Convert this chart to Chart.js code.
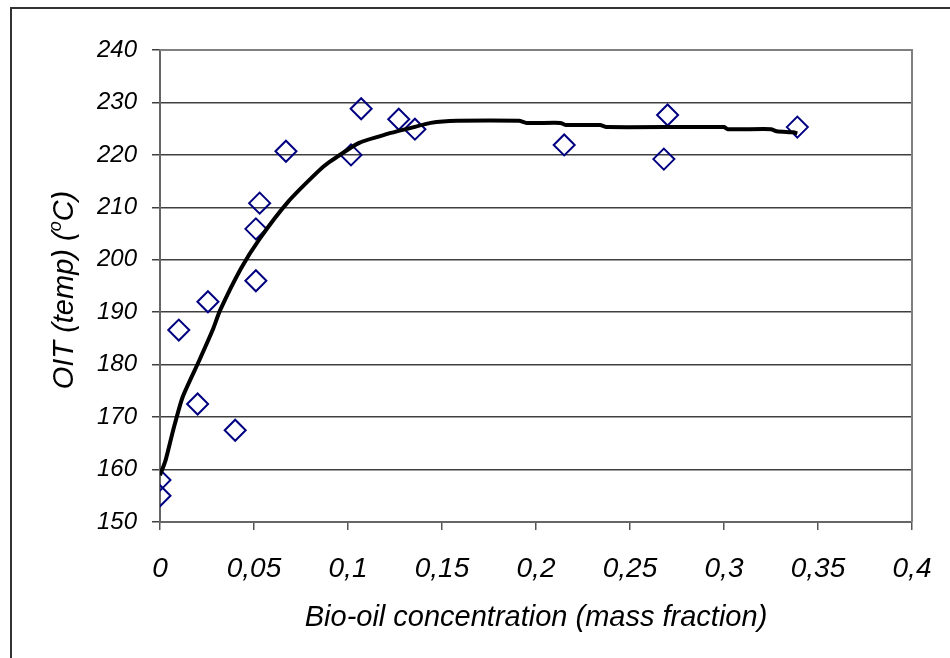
<!DOCTYPE html>
<html>
<head>
<meta charset="utf-8">
<script src="https://cdn.jsdelivr.net/npm/chart.js@4/dist/chart.umd.min.js"></script>
<style>
  html, body { margin: 0; padding: 0; background: #fff; }
  #wrap { width: 950px; height: 658px; position: relative; }
</style>
</head>
<body>
<div id="wrap"><canvas id="c"></canvas></div>
<script>
// measured OIT points (bio-oil mass fraction vs. temperature)
const pointX = [0, 0, 0.01, 0.02, 0.0255, 0.04, 0.051, 0.051, 0.053, 0.067, 0.1016, 0.107, 0.127, 0.1356, 0.215, 0.27, 0.268, 0.339];
const pointY = [158, 155, 186.6, 172.5, 192, 167.5, 196, 205.9, 210.8, 220.7, 220, 228.8, 226.8, 224.9, 221.9, 227.6, 219.2, 225.3];

// trend curve
const fitX = [0, 0.003, 0.007, 0.012, 0.021, 0.028, 0.032, 0.043, 0.053, 0.068, 0.084, 0.09, 0.106, 0.121, 0.133, 0.144, 0.158, 0.191, 0.195, 0.213, 0.216, 0.234, 0.238, 0.3, 0.302, 0.325, 0.328, 0.337, 0.339];
const fitY = [158.9, 161.8, 167.5, 173.8, 180.9, 186.6, 190.4, 198.3, 204.0, 211.0, 216.8, 218.6, 222.3, 224.0, 225.1, 226.1, 226.5, 226.5, 226.1, 226.1, 225.7, 225.7, 225.3, 225.3, 224.9, 224.9, 224.5, 224.3, 224.1];

const xMin = 0, xMax = 0.4, xStep = 0.05;
const yMin = 150, yMax = 240, yStep = 10;

const xTitle = 'Bio-oil concentration (mass fraction)';
const yTitleParts = ['OIT (temp) (', 'o', 'C)'];

const FONT = "'Liberation Sans', Arial, sans-serif";
const zip = (xs, ys) => xs.map((x, i) => ({ x, y: ys[i] }));
const commaFmt = v => String(Math.round(v * 100) / 100).replace('.', ',');

// outer frame + plot border + rotated y title with superscript
const decor = {
  id: 'decor',
  beforeDraw(chart) {
    const ctx = chart.ctx;
    ctx.save();
    ctx.strokeStyle = '#333';
    ctx.lineWidth = 2;
    ctx.strokeRect(11, 8, 2000, 2000);
    ctx.restore();
  },
  beforeDatasetsDraw(chart) {
    const { ctx, chartArea: a } = chart;
    ctx.save();
    ctx.strokeStyle = '#808080';
    ctx.lineWidth = 2;
    ctx.beginPath();
    ctx.moveTo(a.left, a.top);
    ctx.lineTo(a.right, a.top);
    ctx.lineTo(a.right, a.bottom);
    ctx.stroke();
    ctx.restore();
  },
  afterDraw(chart) {
    const { ctx } = chart;
    ctx.save();
    ctx.fillStyle = '#000';
    ctx.textBaseline = 'alphabetic';
    const big = 'italic 29px ' + FONT, small = 'italic 18px ' + FONT;
    ctx.font = big;
    const w0 = ctx.measureText(yTitleParts[0]).width;
    const w2 = ctx.measureText(yTitleParts[2]).width;
    ctx.font = small;
    const w1 = ctx.measureText(yTitleParts[1]).width;
    const total = w0 + w1 + w2;
    ctx.translate(73, 290);
    ctx.rotate(-Math.PI / 2);
    let x = -total / 2;
    ctx.font = big;
    ctx.fillText(yTitleParts[0], x, 0);
    x += w0;
    ctx.font = small;
    ctx.fillText(yTitleParts[1], x, -12);
    x += w1;
    ctx.font = big;
    ctx.fillText(yTitleParts[2], x, 0);
    ctx.restore();
  }
};

new Chart(document.getElementById('c'), {
  type: 'scatter',
  data: {
    datasets: [
      {
        label: 'trend',
        data: zip(fitX, fitY),
        showLine: true,
        borderColor: '#000',
        borderWidth: 4,
        pointRadius: 0,
        tension: 0.2,
        fill: false
      },
      {
        label: 'OIT',
        data: zip(pointX, pointY),
        pointStyle: 'rectRot',
        pointRadius: 10.5,
        borderColor: '#000080',
        backgroundColor: 'rgba(0,0,0,0)',
        borderWidth: 2,
        showLine: false
      }
    ]
  },
  options: {
    responsive: true,
    maintainAspectRatio: false,
    animation: false,
    events: [],
    layout: { padding: { top: 50, right: 38, left: 0, bottom: 0 } },
    plugins: { legend: { display: false }, tooltip: { enabled: false } },
    scales: {
      x: {
        type: 'linear',
        min: xMin, max: xMax,
        afterFit: s => { s.height = 136; s.paddingLeft = 0; s.paddingRight = 0; },
        ticks: {
          stepSize: xStep,
          padding: 22,
          color: '#000',
          font: { family: FONT, size: 28, style: 'italic' },
          callback: commaFmt,
          maxRotation: 0
        },
        grid: { drawOnChartArea: false, tickLength: 8, color: '#555', lineWidth: 1.5 },
        border: { color: '#666', width: 2 },
        title: {
          display: true,
          text: xTitle,
          color: '#000',
          font: { family: FONT, size: 29, style: 'italic' },
          padding: { top: 12, bottom: 23 }
        }
      },
      y: {
        min: yMin, max: yMax,
        afterFit: s => { s.width = 160; },
        ticks: {
          stepSize: yStep,
          padding: 15,
          color: '#000',
          font: { family: FONT, size: 24, style: 'italic' }
        },
        grid: { color: '#404040', lineWidth: 1.5, tickLength: 8 },
        border: { color: '#666', width: 2 }
      }
    }
  },
  plugins: [decor]
});
</script>
</body>
</html>
